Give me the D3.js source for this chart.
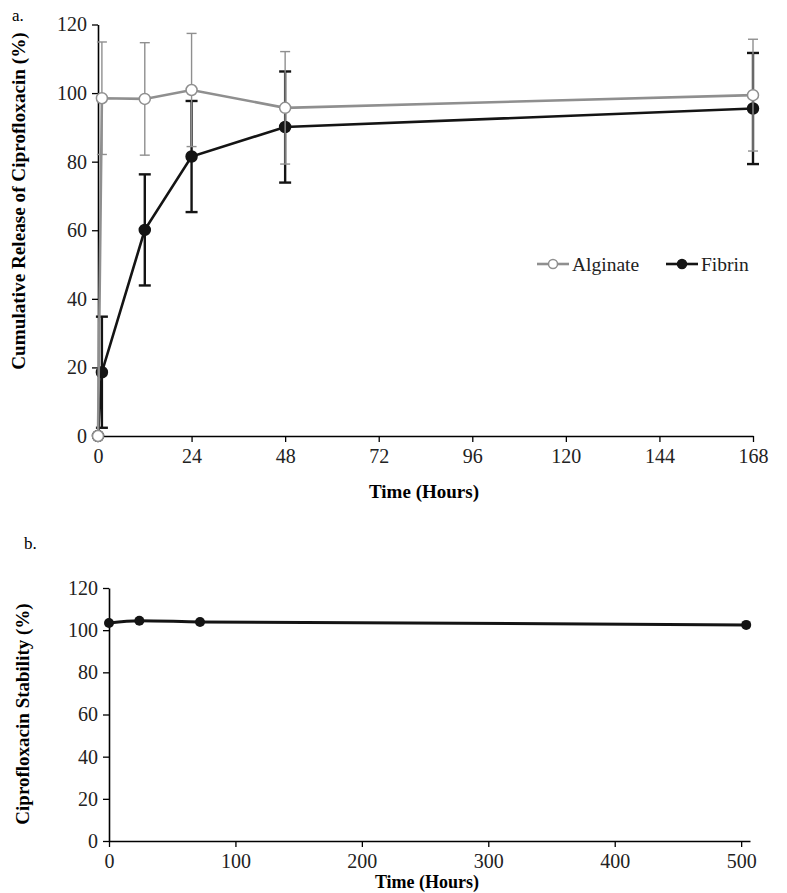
<!DOCTYPE html>
<html><head><meta charset="utf-8">
<script src="https://cdn.jsdelivr.net/npm/d3@7"></script>
<style>
body{margin:0;background:#fff;}
svg{display:block;font-family:"Liberation Serif","Times New Roman",serif;}
</style></head>
<body><svg id="c" width="787" height="893"></svg>
<script>
// Panel a data
const timeA = [0, 1, 12, 24, 48, 168];
const alginate = [0, 98.5, 98.3, 100.9, 95.7, 99.4];
const alginateSD = [0, 16.4, 16.4, 16.5, 16.4, 16.3];
const fibrin = [0, 18.6, 60.1, 81.5, 90.1, 95.5];
const fibrinSD = [0, 16.2, 16.2, 16.2, 16.2, 16.2];
const xTicksA = [0, 24, 48, 72, 96, 120, 144, 168];
const yTicksA = [0, 20, 40, 60, 80, 100, 120];
// Panel b data
const timeB = [0, 24, 72, 504];
const stability = [103.4, 104.5, 103.9, 102.5];
const xTicksB = [0, 100, 200, 300, 400, 500];
const yTicksB = [0, 20, 40, 60, 80, 100, 120];

const svg = d3.select("#c");
const GRAY = "#8f8f8f", BLACK = "#141414";

function axes(g, x, y, xt, yt, fs) {
  const xa = g.append("g").attr("transform", `translate(0,${y.range()[0]})`)
    .call(d3.axisBottom(x).tickValues(xt).tickSize(6).tickPadding(7).tickSizeOuter(0));
  const ya = g.append("g").attr("transform", `translate(${x.range()[0]},0)`)
    .call(d3.axisLeft(y).tickValues(yt).tickSize(6).tickPadding(5).tickSizeOuter(0));
  [xa, ya].forEach(a => {
    a.select(".domain").attr("stroke", "#000").attr("stroke-width", 1.6);
    a.selectAll(".tick line").attr("stroke", "#000").attr("stroke-width", 1.3);
    a.selectAll(".tick text").attr("fill", "#222").attr("font-size", fs)
      .attr("font-family", "Liberation Serif");
  });
}

// ---------- Panel a ----------
const xA = d3.scaleLinear().domain([0, 168]).range([98, 753]);
const yA = d3.scaleLinear().domain([0, 120]).range([436, 24.5]);
const gA = svg.append("g");
axes(gA, xA, yA, xTicksA, yTicksA, 20);

function series(g, vals, sd, color, fill, lw, elw, cap) {
  const pts = timeA.map((t, i) => ({t, v: vals[i], s: sd[i]}));
  g.append("g").selectAll("g").data(pts.filter(d => d.s > 0)).join("g").each(function(d) {
    const e = d3.select(this);
    const cx = xA(d.t);
    e.append("line").attr("x1", cx).attr("x2", cx).attr("y1", yA(d.v + d.s)).attr("y2", yA(d.v - d.s))
      .attr("stroke", color).attr("stroke-width", elw);
    [d.v + d.s, d.v - d.s].forEach(v => e.append("line").attr("x1", cx - cap).attr("x2", cx + cap)
      .attr("y1", yA(v)).attr("y2", yA(v)).attr("stroke", color).attr("stroke-width", elw));
  });
  g.append("path").datum(pts).attr("fill", "none").attr("stroke", color).attr("stroke-width", lw)
    .attr("d", d3.line().x(d => xA(d.t)).y(d => yA(d.v)));
  g.append("g").selectAll("circle").data(pts).join("circle")
    .attr("cx", d => xA(d.t)).attr("cy", d => yA(d.v)).attr("r", 5.5)
    .attr("fill", fill).attr("stroke", color).attr("stroke-width", 1.5);
}
series(gA.append("g"), fibrin, fibrinSD, BLACK, BLACK, 2.6, 2.4, 6);
series(gA.append("g"), alginate, alginateSD, GRAY, "#fff", 2.6, 1.4, 5);

// legend
const leg = gA.append("g").attr("font-size", 19.5).attr("fill", "#222");
[{n: "Alginate", c: GRAY, f: "#fff", x: 537}, {n: "Fibrin", c: BLACK, f: BLACK, x: 666}].forEach(L => {
  leg.append("line").attr("x1", L.x).attr("x2", L.x + 32).attr("y1", 264).attr("y2", 264)
    .attr("stroke", L.c).attr("stroke-width", 2.6);
  leg.append("circle").attr("cx", L.x + 16).attr("cy", 264).attr("r", 4.5)
    .attr("fill", L.f).attr("stroke", L.c).attr("stroke-width", 1.5);
  leg.append("text").attr("x", L.x + 35).attr("y", 271).text(L.n).attr("fill", "#222");
});

svg.append("text").attr("x", 12).attr("y", 21).attr("font-size", 17).text("a.");
svg.append("text").attr("transform", "translate(25,201) rotate(-90)").attr("text-anchor", "middle")
  .attr("font-size", 19.2).attr("font-weight", "bold").text("Cumulative Release of Ciprofloxacin (%)");
svg.append("text").attr("x", 424).attr("y", 498).attr("text-anchor", "middle")
  .attr("font-size", 19).attr("font-weight", "bold").text("Time (Hours)");

// ---------- Panel b ----------
const xB = d3.scaleLinear().domain([0, 507]).range([109, 750]);
const yB = d3.scaleLinear().domain([0, 120]).range([841, 588]);
const gB = svg.append("g");
axes(gB, xB, yB, xTicksB, yTicksB, 20);
const ptsB = timeB.map((t, i) => ({t, v: stability[i]}));
gB.append("path").datum(ptsB).attr("fill", "none").attr("stroke", BLACK).attr("stroke-width", 3)
  .attr("d", d3.line().curve(d3.curveMonotoneX).x(d => xB(d.t)).y(d => yB(d.v)));
gB.selectAll("circle").data(ptsB).join("circle").attr("cx", d => xB(d.t)).attr("cy", d => yB(d.v))
  .attr("r", 5).attr("fill", BLACK);

svg.append("text").attr("x", 24).attr("y", 549).attr("font-size", 17).text("b.");
svg.append("text").attr("transform", "translate(29,714) rotate(-90)").attr("text-anchor", "middle")
  .attr("font-size", 19).attr("font-weight", "bold").text("Ciprofloxacin Stability (%)");
svg.append("text").attr("x", 427).attr("y", 888).attr("text-anchor", "middle")
  .attr("font-size", 18).attr("font-weight", "bold").text("Time (Hours)");
</script></body></html>
